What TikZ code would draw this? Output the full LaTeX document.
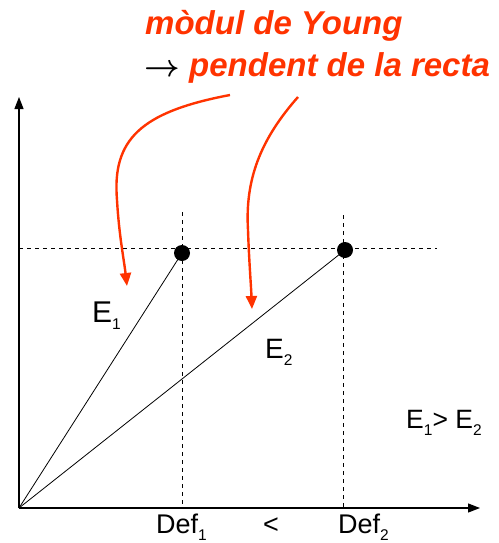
\documentclass[tikz,border=0pt]{standalone}
\usepackage{fontspec}
\usepackage{graphicx}
\setmainfont{Liberation Sans}
\usetikzlibrary{arrows.meta}
\definecolor{redor}{HTML}{FF3300}
\newcommand\mysbs[1]{\raisebox{-7.5pt}{\fontsize{15.5}{16}\selectfont #1}}
\begin{document}
\begin{tikzpicture}[x=1pt,y=-1pt,
  axis/.style={line width=1.2pt,-{Triangle[length=12pt,width=9pt]}},
  guide/.style={line width=0.8pt,dash pattern=on 4pt off 4pt},
  redarrow/.style={redor,line width=2.4pt,-{Triangle[length=13pt,width=11pt]}},
  lbl/.style={inner sep=0pt,anchor=base west},
  title/.style={font=\fontsize{33}{34}\selectfont\bfseries\itshape,text=redor,inner sep=0pt,anchor=base west},
  dot/.style={circle,fill=black,minimum size=16pt,inner sep=0pt}]
\useasboundingbox (0,0) rectangle (498,543);
\coordinate (O) at (19,508);
\coordinate (Ytop) at (19,97);
\coordinate (Xend) at (480,508);
\draw[guide] (19,248) -- (437,248);
\draw[guide] (182,212) -- (182,508);
\draw[guide] (343,215) -- (343,508);
\draw[axis] (O) -- (Ytop);
\draw[axis] (O) -- (Xend);
\node[dot] (d1) at (182,253) {};
\node[dot] (d2) at (345,250) {};
\draw[line width=0.8pt] (O) -- (d1.center);
\draw[line width=0.8pt] (O) -- (d2.center);
\node[title] (t1) at (145,35) {mòdul de Young};
\node[title] (t2) at (189,76) {pendent de la recta};
\node[inner sep=0pt,anchor=base west] (arr) at (144,76) {\scalebox{3.1}{\boldmath$\rightarrow$}};
\coordinate (s1) at (230,95);
\coordinate (e1) at (127,286);
\coordinate (s2) at (298,97);
\coordinate (e2) at (252,309);
\draw[redarrow] (s1) .. controls (140,112) and (112,140) .. (117,200) .. controls (119,235) and (124,260) .. (e1);
\draw[redarrow] (s2) .. controls (260,140) and (245,180) .. (248,230) .. controls (249,260) and (251,285) .. (e2);
\node[lbl,font=\fontsize{30}{30}\selectfont] (E1) at (92,322) {E\mysbs{1}};
\node[lbl,font=\fontsize{28}{30}\selectfont] (E2) at (265,358) {E\mysbs{2}};
\node[lbl,font=\fontsize{26.5}{30}\selectfont] (cmp) at (406,428) {E\mysbs{1}> E\mysbs{2}};
\node[lbl,font=\fontsize{27}{30}\selectfont] (D1) at (156,533) {Def\mysbs{1}};
\node[lbl,font=\fontsize{27}{30}\selectfont] (lt) at (263,533) {<};
\node[lbl,font=\fontsize{27}{30}\selectfont] (D2) at (338,533) {Def\mysbs{2}};
\end{tikzpicture}
\end{document}
